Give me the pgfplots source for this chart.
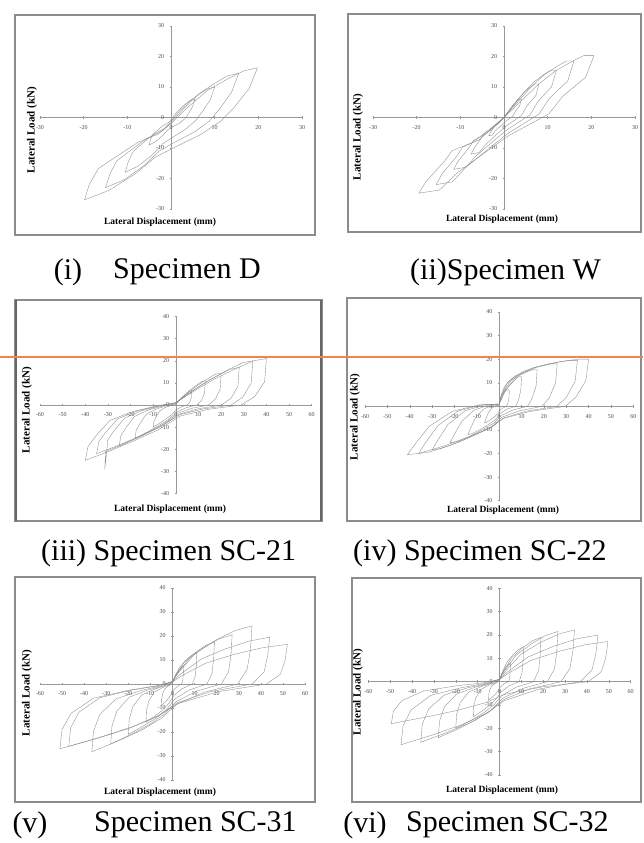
\documentclass[border=0pt]{standalone}
\usepackage{pgfplots}
\pgfplotsset{compat=1.18}
\usepackage{fontspec}
\setmainfont{Liberation Serif}
\definecolor{orng}{RGB}{242,132,84}
\pgfplotsset{
 panel/.style={scale only axis, axis lines=middle,
  axis line style={-, draw=black!40, line width=0.5pt},
  tick style={draw=black!40, line width=0.4pt}, major tick length=2.5pt, tick align=center,
  ticklabel style={font=\fontsize{6}{6}\selectfont, text=black!70},
  xticklabel style={yshift=-3pt}, yticklabel style={xshift=-2pt},
  /pgf/number format/assume math mode=true,
  hide obscured x ticks=false, hide obscured y ticks=false,
  clip=false, anchor=south west},
 ln/.style={draw=black!45, line width=0.35pt, mark=none, sharp plot}
}
\newcommand\xlab{\fontsize{9.5}{9.5}\selectfont\bfseries}
\newcommand\ylab{\fontsize{11}{11}\selectfont\bfseries}
\newcommand\capf{\fontsize{30}{30}\selectfont}
\begin{document}
\begin{tikzpicture}[x=1pt,y=1pt]
\path[use as bounding box, fill=white] (0,0) rectangle (643,843);
% frames
\draw[black!45, line width=1.2pt] (15,828) rectangle (315,608);
\draw[black!45, line width=1.2pt] (348,829) rectangle (641,611);
\draw[black!45, line width=1.2pt] (15,543) rectangle (322,322);
\draw[black!60, line width=2.6pt] (16,543) -- (16,322);
\draw[black!60, line width=2.6pt] (321,543) -- (321,322);
\draw[black!45, line width=1.2pt] (347,545) rectangle (641,322);
\draw[black!45, line width=1.2pt] (15,266) rectangle (315,41);
\draw[black!45, line width=1.2pt] (352,265) rectangle (641,41);

% ---------- (i) Specimen D
\begin{axis}[panel, at={(40pt,634pt)}, width=262pt, height=183pt,
 xmin=-30, xmax=30, ymin=-30, ymax=30,
 xtick={-30,-20,...,30}, ytick={-30,-20,...,30}]
\addplot[ln] coordinates {(3.8,3.3)(8.3,8.8)(12.9,12.6)(16.7,15.3)(19.8,16.3)(17.9,9.5)(14.4,3.2)(11.3,-1.3)(6.8,-5.6)(0.8,-9.8)(-3.6,-13)(-8.2,-18.5)(-14.2,-23.9)(-19.8,-27)(-18.7,-21.9)(-16.6,-16.7)(-12.1,-12.4)(-7.5,-8.1)(-2.9,-5.4)(0,-2)(3.8,3.3)};
\addplot[ln] coordinates {(2.9,2.9)(6.4,7.8)(10,11.2)(12.9,13.6)(15.5,14.5)(13.9,8.4)(11.2,2.9)(8.8,-1.2)(5.3,-4.8)(0.6,-8.3)(-2.7,-11)(-6.2,-15.8)(-10.7,-20.4)(-15,-23)(-14,-18.6)(-12.5,-14.3)(-9.1,-10.6)(-5.6,-6.9)(-2.2,-4.6)(0,-1.7)(2.9,2.9)};
\addplot[ln] coordinates {(1.9,2)(4.2,5.4)(6.5,7.7)(8.4,9.4)(10,10)(9,5.8)(7.2,2)(5.7,-0.9)(3.4,-3.8)(0.4,-6.5)(-1.9,-8.6)(-4.3,-12.3)(-7.5,-15.9)(-10.5,-18)(-9.8,-14.6)(-8.7,-11.2)(-6.4,-8.3)(-3.9,-5.4)(-1.5,-3.6)(0,-1.3)(1.9,2)};
\addplot[ln] coordinates {(1,1.2)(2.3,3.2)(3.5,4.6)(4.6,5.6)(5.5,6)(4.9,3.5)(4,1.2)(3.1,-0.5)(1.9,-1.9)(0.2,-3.2)(-0.9,-4.3)(-2.1,-6.2)(-3.6,-8)(-5,-9)(-4.7,-7.3)(-4.2,-5.6)(-3,-4.1)(-1.9,-2.7)(-0.7,-1.8)(0,-0.7)(1,1.2)};
\end{axis}
\node[font=\xlab] at (160,621) {Lateral Displacement (mm)};
\node[font=\ylab, rotate=90] at (32,713) {Lateral Load (kN)};

% ---------- (ii) Specimen W
\begin{axis}[panel, at={(373pt,634pt)}, width=262pt, height=183pt,
 xmin=-30, xmax=30, ymin=-30, ymax=30,
 xtick={-30,-20,...,30}, ytick={-30,-20,...,30}]
\addplot[ln] coordinates {(0,0)(4.1,5.7)(8,11)(11.7,15.2)(15.7,18.5)(18.3,20.3)(20.6,20.3)(18.7,13.2)(13.4,6.9)(10.3,1.2)(1,-6)(-5.7,-12.9)(-10.9,-18.4)(-14.8,-23.8)(-19.5,-24.8)(-17.9,-21.1)(-13.5,-14.1)(-11.9,-10.9)(-7.2,-8.2)(-2.3,-2.7)(0,0)};
\addplot[ln] coordinates {(0,0)(3.2,5.2)(6.2,10)(9.1,13.9)(12.2,16.8)(14.2,18.5)(16,18.5)(14.6,12)(10.4,6.3)(8,1.1)(0.8,-5.3)(-4.5,-11.4)(-8.7,-16.3)(-11.8,-21.1)(-15.5,-22)(-14.3,-18.7)(-10.7,-12.5)(-9.5,-9.7)(-5.7,-7.3)(-1.9,-2.4)(0,0)};
\addplot[ln] coordinates {(0,0)(2.4,4.3)(4.7,8.4)(6.8,11.6)(9.1,14.1)(10.7,15.5)(12,15.5)(10.9,10.1)(7.8,5.3)(6,0.9)(0.6,-4.1)(-3.3,-8.8)(-6.4,-12.6)(-8.7,-16.3)(-11.5,-17)(-10.6,-14.5)(-7.9,-9.7)(-7,-7.5)(-4.3,-5.6)(-1.4,-1.9)(0,0)};
\addplot[ln] coordinates {(0,0)(1.6,3.1)(3.1,5.9)(4.6,8.3)(6.1,10)(7.1,11)(8,11)(7.3,7.2)(5.2,3.7)(4,0.7)(0.4,-2.9)(-2.2,-6.2)(-4.2,-8.9)(-5.7,-11.5)(-7.5,-12)(-6.9,-10.2)(-5.2,-6.8)(-4.6,-5.3)(-2.8,-4)(-0.9,-1.3)(0,0)};
\addplot[ln] coordinates {(0,0)(0.8,1.7)(1.6,3.2)(2.3,4.5)(3,5.5)(3.6,6)(4,6)(3.6,3.9)(2.6,2)(2,0.4)(0.2,-1.4)(-1,-3.1)(-2,-4.4)(-2.7,-5.8)(-3.5,-6)(-3.2,-5.1)(-2.4,-3.4)(-2.1,-2.6)(-1.3,-2)(-0.4,-0.7)(0,0)};
\end{axis}
\node[font=\xlab] at (502,624) {Lateral Displacement (mm)};
\node[font=\ylab, rotate=90] at (358,706) {Lateral Load (kN)};

% ---------- (iii) Specimen SC-21
\begin{axis}[panel, at={(40pt,349.5pt)}, width=271.7pt, height=177pt,
 xmin=-60, xmax=60, ymin=-40, ymax=40,
 xtick={-60,-50,...,60}, ytick={-40,-30,...,40}]
\addplot[ln] coordinates {(0,1.1)(8,6.3)(16.8,11.6)(26,16.2)(34.4,20)(40,21)(39.2,10.5)(34.8,3.8)(28.8,0)(14,-2)(2,-5)(-8,-11.3)(-19.2,-16.5)(-30.4,-21.3)(-40,-25)(-38.8,-18.8)(-35.2,-13.8)(-29.2,-7)(-19.2,-3)(-8.8,-0.5)(0,1.1)};
\addplot[ln] coordinates {(0,1)(6.8,6)(14.3,11)(22.1,15.4)(29.2,19)(34,20)(33.3,10)(29.6,3.6)(24.5,0)(11.9,-1.8)(1.7,-4.4)(-7,-9.9)(-16.8,-14.5)(-26.6,-18.7)(-35,-22)(-34,-16.5)(-30.8,-12.1)(-25.6,-6.2)(-16.8,-2.6)(-7.7,-0.4)(0,1)};
\addplot[ln] coordinates {(0,0.9)(5.6,5.1)(11.8,9.4)(18.2,13.1)(24.1,16.2)(28,17)(27.4,8.5)(24.4,3.1)(20.2,0)(9.8,-1.7)(1.4,-4.2)(-6.2,-9.5)(-14.9,-13.9)(-23.6,-17.9)(-31,-21)(-31.4,-29)(-30.6,-22)(-30.1,-15.8)(-27.3,-11.6)(-22.6,-5.9)(-14.9,-2.5)(-6.8,-0.4)(0,0.9)};
\addplot[ln] coordinates {(0,0.7)(4,4.4)(8.4,8)(13,11.2)(17.2,13.8)(20,14.5)(19.6,7.3)(17.4,2.6)(14.4,0)(7,-1.5)(1,-3.7)(-5,-8.3)(-12,-12.2)(-19,-15.7)(-25,-18.5)(-24.3,-13.9)(-22,-10.2)(-18.3,-5.2)(-12,-2.2)(-5.5,-0.4)(0,0.7)};
\addplot[ln] coordinates {(0,0.6)(2.6,3.3)(5.5,6.1)(8.5,8.5)(11.2,10.5)(13,11)(12.7,5.5)(11.3,2)(9.4,0)(4.6,-1.2)(0.7,-3)(-3.6,-6.8)(-8.6,-9.9)(-13.7,-12.8)(-18,-15)(-17.5,-11.3)(-15.8,-8.3)(-13.1,-4.2)(-8.6,-1.8)(-4,-0.3)(0,0.6)};
\addplot[ln] coordinates {(0,0.3)(1.4,2)(2.9,3.6)(4.6,5)(6,6.2)(7,6.5)(6.9,3.3)(6.1,1.2)(5,0)(2.5,-0.8)(0.4,-2)(-2,-4.5)(-4.8,-6.6)(-7.6,-8.5)(-10,-10)(-9.7,-7.5)(-8.8,-5.5)(-7.3,-2.8)(-4.8,-1.2)(-2.2,-0.2)(0,0.3)};
\end{axis}
\node[font=\xlab] at (170,334) {Lateral Displacement (mm)};
\node[font=\ylab, rotate=90] at (27,433) {Lateral Load (kN)};

% ---------- (iv) Specimen SC-22
\begin{axis}[panel, at={(365pt,342.3pt)}, width=268.3pt, height=188.7pt,
 xmin=-60, xmax=60, ymin=-40, ymax=40,
 xtick={-60,-50,...,60}, ytick={-40,-30,...,40}]
\addplot[ln] coordinates {(0,1)(3,7)(8.8,13)(16.8,16.6)(26.8,18.8)(35.2,20)(40,20)(38.8,11)(34.4,4)(29.6,0)(14,-2.1)(2,-5.1)(-4.1,-9.2)(-13.5,-12.9)(-24.6,-16.8)(-35.7,-19.9)(-41,-20.5)(-37.3,-15.6)(-31.2,-8.4)(-20.9,-2.1)(-9,0.6)(0,1)};
\addplot[ln] coordinates {(0,1)(2.6,6.8)(7.7,12.7)(14.7,16.2)(23.5,18.3)(30.8,19.5)(35,19.5)(34,10.7)(30.1,3.9)(25.9,0)(12.3,-2)(1.8,-5)(-3.6,-9)(-11.9,-12.6)(-21.6,-16.4)(-31.3,-19.4)(-36,-20)(-32.8,-15.2)(-27.4,-8.2)(-18.4,-2)(-7.9,0.6)(0,1)};
\addplot[ln] coordinates {(0,0.9)(2,6.3)(5.7,11.7)(10.9,14.9)(17.4,16.9)(22.9,18)(26,18)(25.2,9.9)(22.4,3.6)(19.2,0)(9.1,-1.9)(1.3,-4.6)(-3,-8.3)(-9.9,-11.7)(-18,-15.2)(-26.1,-17.9)(-30,-18.5)(-27.3,-14.1)(-22.8,-7.6)(-15.3,-1.9)(-6.6,0.6)(0,0.9)};
\addplot[ln] coordinates {(0,0.8)(1.3,5.4)(3.7,10.1)(7.1,12.9)(11.4,14.6)(15,15.5)(17,15.5)(16.5,8.5)(14.6,3.1)(12.6,0)(6,-1.6)(0.9,-3.9)(-2.2,-7)(-7.3,-9.8)(-13.2,-12.7)(-19.1,-15)(-22,-15.5)(-20,-11.8)(-16.7,-6.4)(-11.2,-1.6)(-4.8,0.5)(0,0.8)};
\addplot[ln] coordinates {(0,0.6)(0.8,4.4)(2.2,8.1)(4.2,10.4)(6.7,11.8)(8.8,12.5)(10,12.5)(9.7,6.9)(8.6,2.5)(7.4,0)(3.5,-1.2)(0.5,-3)(-1.4,-5.4)(-4.6,-7.6)(-8.4,-9.8)(-12.2,-11.6)(-14,-12)(-12.7,-9.1)(-10.6,-4.9)(-7.1,-1.2)(-3.1,0.4)(0,0.6)};
\addplot[ln] coordinates {(0,0.4)(0.3,2.5)(1,4.6)(1.9,5.8)(3,6.6)(4,7)(4.5,7)(4.4,3.9)(3.9,1.4)(3.3,0)(1.6,-0.7)(0.2,-1.8)(-0.7,-3.2)(-2.1,-4.4)(-3.9,-5.7)(-5.7,-6.8)(-6.5,-7)(-5.9,-5.3)(-4.9,-2.9)(-3.3,-0.7)(-1.4,0.2)(0,0.4)};
\end{axis}
\node[font=\xlab] at (503,333) {Lateral Displacement (mm)};
\node[font=\ylab, rotate=90] at (355,426) {Lateral Load (kN)};

% ---------- (v) Specimen SC-31
\begin{axis}[panel, at={(40pt,63pt)}, width=265pt, height=192pt,
 xmin=-60, xmax=60, ymin=-40, ymax=40,
 xtick={-60,-50,...,60}, ytick={-40,-30,...,40}]
\addplot[ln] coordinates {(0,0.8)(3.9,3.3)(15.1,8.7)(28.1,12.4)(41.1,15.2)(52,16.5)(51,9.9)(48.9,4.1)(42.6,0)(20.8,-3.2)(2.6,-8.1)(-6.6,-13.5)(-19.4,-18.4)(-34.2,-22.7)(-51,-27)(-50,-18.9)(-45.9,-12.2)(-35.7,-5.9)(-20.4,-2.7)(-7.7,-0.8)(0,0.8)};
\addplot[ln] coordinates {(0,1)(3.3,3.9)(12.8,10.3)(23.8,14.6)(34.8,17.9)(44,19.5)(43.1,11.7)(41.4,4.9)(36.1,0)(17.6,-3.1)(2.2,-7.8)(-6.1,-13)(-17.9,-17.7)(-31.5,-21.8)(-47,-26)(-46.1,-18.2)(-42.3,-11.7)(-32.9,-5.7)(-18.8,-2.6)(-7,-0.8)(0,1)};
\addplot[ln] coordinates {(0,1.2)(2.7,4.8)(10.4,12.8)(19.4,18.2)(28.4,22.3)(36,24.2)(35.3,14.5)(33.8,6.1)(29.5,0)(14.4,-3.4)(1.8,-8.5)(-4.7,-14.1)(-13.9,-19.2)(-24.5,-23.7)(-36.5,-28.2)(-35.8,-19.7)(-32.9,-12.7)(-25.6,-6.2)(-14.6,-2.8)(-5.5,-0.8)(0,1.2)};
\addplot[ln] coordinates {(0,1)(2,4.1)(7.8,10.9)(14.6,15.4)(21.3,18.9)(27,20.5)(26.5,12.3)(25.4,5.1)(22.1,0)(10.8,-3)(1.4,-7.5)(-3.6,-12.5)(-10.6,-17)(-18.8,-21)(-28,-25)(-27.4,-17.5)(-25.2,-11.3)(-19.6,-5.5)(-11.2,-2.5)(-4.2,-0.8)(0,1)};
\addplot[ln] coordinates {(0,0.9)(1.4,3.5)(5.5,9.3)(10.3,13.1)(15,16.1)(19,17.5)(18.6,10.5)(17.9,4.4)(15.6,0)(7.6,-2.5)(1,-6.3)(-2.6,-10.5)(-7.6,-14.3)(-13.4,-17.6)(-20,-21)(-19.6,-14.7)(-18,-9.5)(-14,-4.6)(-8,-2.1)(-3,-0.6)(0,0.9)};
\addplot[ln] coordinates {(0,0.7)(0.8,2.6)(3.2,6.9)(5.9,9.8)(8.7,12)(11,13)(10.8,7.8)(10.3,3.3)(9,0)(4.4,-1.9)(0.6,-4.8)(-1.6,-8)(-4.6,-10.9)(-8,-13.4)(-12,-16)(-11.8,-11.2)(-10.8,-7.2)(-8.4,-3.5)(-4.8,-1.6)(-1.8,-0.5)(0,0.7)};
\addplot[ln] coordinates {(0,0.4)(0.4,1.5)(1.5,4)(2.7,5.6)(4,6.9)(5,7.5)(4.9,4.5)(4.7,1.9)(4.1,0)(2,-1.1)(0.3,-2.7)(-0.7,-4.5)(-1.9,-6.1)(-3.4,-7.6)(-5,-9)(-4.9,-6.3)(-4.5,-4.1)(-3.5,-2)(-2,-0.9)(-0.8,-0.3)(0,0.4)};
\end{axis}
\node[font=\xlab] at (160,51) {Lateral Displacement (mm)};
\node[font=\ylab, rotate=90] at (27,150) {Lateral Load (kN)};

% ---------- (vi) Specimen SC-32
\begin{axis}[panel, at={(368.3pt,68pt)}, width=262.4pt, height=186.7pt,
 xmin=-60, xmax=60, ymin=-40, ymax=40,
 xtick={-60,-50,...,60}, ytick={-40,-30,...,40}]
\addplot[ln] coordinates {(0,0.9)(3.7,3.4)(14.4,9.1)(26.8,12.9)(39.2,15.8)(49.6,17.2)(48.6,10.3)(46.6,4.3)(40.7,0)(19.8,-2.2)(2.5,-5.4)(-6.4,-9)(-18.8,-12.2)(-33.2,-15.1)(-49.5,-18)(-48.5,-12.6)(-44.6,-8.1)(-34.7,-4)(-19.8,-1.8)(-7.4,-0.5)(0,0.9)};
\addplot[ln] coordinates {(0,1)(3.4,4)(13.1,10.6)(24.3,15)(35.6,18.4)(45,20)(44.1,12)(42.3,5)(36.9,0)(18,-3.2)(2.3,-8.1)(-5.9,-13.5)(-17.1,-18.4)(-30.2,-22.7)(-45,-27)(-44.1,-18.9)(-40.5,-12.2)(-31.5,-5.9)(-18,-2.7)(-6.8,-0.8)(0,1)};
\addplot[ln] coordinates {(0,1.1)(2.6,4.4)(9.9,11.8)(18.5,16.7)(27.1,20.4)(34.3,22.2)(33.6,13.3)(32.2,5.6)(28.1,0)(13.7,-3.1)(1.7,-7.8)(-4.7,-13)(-13.7,-17.7)(-24.1,-21.8)(-36,-26)(-35.3,-18.2)(-32.4,-11.7)(-25.2,-5.7)(-14.4,-2.6)(-5.4,-0.8)(0,1.1)};
\addplot[ln] coordinates {(0,1.1)(2,4.3)(7.7,11.4)(14.4,16.1)(21.1,19.8)(26.7,21.5)(26.2,12.9)(25.1,5.4)(21.9,0)(10.7,-2.9)(1.3,-7.2)(-3.6,-12)(-10.6,-16.3)(-18.8,-20.2)(-28,-24)(-27.4,-16.8)(-25.2,-10.8)(-19.6,-5.3)(-11.2,-2.4)(-4.2,-0.7)(0,1.1)};
\addplot[ln] coordinates {(0,1)(1.4,3.8)(5.5,10.1)(10.3,14.3)(15,17.5)(19,19)(18.6,11.4)(17.9,4.8)(15.6,0)(7.6,-2.4)(1,-6)(-2.6,-10)(-7.6,-13.6)(-13.4,-16.8)(-20,-20)(-19.6,-14)(-18,-9)(-14,-4.4)(-8,-2)(-3,-0.6)(0,1)};
\addplot[ln] coordinates {(0,0.8)(0.8,3)(3.2,8)(5.9,11.3)(8.7,13.8)(11,15)(10.8,9)(10.3,3.8)(9,0)(4.4,-1.8)(0.6,-4.5)(-1.6,-7.5)(-4.6,-10.2)(-8,-12.6)(-12,-15)(-11.8,-10.5)(-10.8,-6.8)(-8.4,-3.3)(-4.8,-1.5)(-1.8,-0.5)(0,0.8)};
\addplot[ln] coordinates {(0,0.4)(0.4,1.6)(1.5,4.2)(2.7,6)(4,7.4)(5,8)(4.9,4.8)(4.7,2)(4.1,0)(2,-1)(0.3,-2.4)(-0.7,-4)(-1.9,-5.4)(-3.4,-6.7)(-5,-8)(-4.9,-5.6)(-4.5,-3.6)(-3.5,-1.8)(-2,-0.8)(-0.8,-0.2)(0,0.4)};
\end{axis}
\node[font=\xlab] at (502,53) {Lateral Displacement (mm)};
\node[font=\ylab, rotate=90] at (358,151) {Lateral Load (kN)};

% captions
\node[font=\capf, inner sep=0pt] at (68,571) {(i)};
\node[font=\capf, anchor=west, inner sep=0pt] at (113,571) {Specimen D};
\node[font=\capf, anchor=west, inner sep=0pt] at (410,571) {(ii)Specimen W};
\node[font=\capf, anchor=west, inner sep=0pt] at (41,290) {(iii) Specimen SC-21};
\node[font=\capf, anchor=west, inner sep=0pt] at (353,290) {(iv) Specimen SC-22};
\node[font=\capf, inner sep=0pt] at (30,18) {(v)};
\node[font=\capf, anchor=west, inner sep=0pt] at (94,18) {Specimen SC-31};
\node[font=\capf, inner sep=0pt] at (365,18) {(vi)};
\node[font=\capf, anchor=west, inner sep=0pt] at (406,18) {Specimen SC-32};

% orange line
\draw[orng, line width=2.2pt] (0,486) -- (643,486);
\end{tikzpicture}
\end{document}
